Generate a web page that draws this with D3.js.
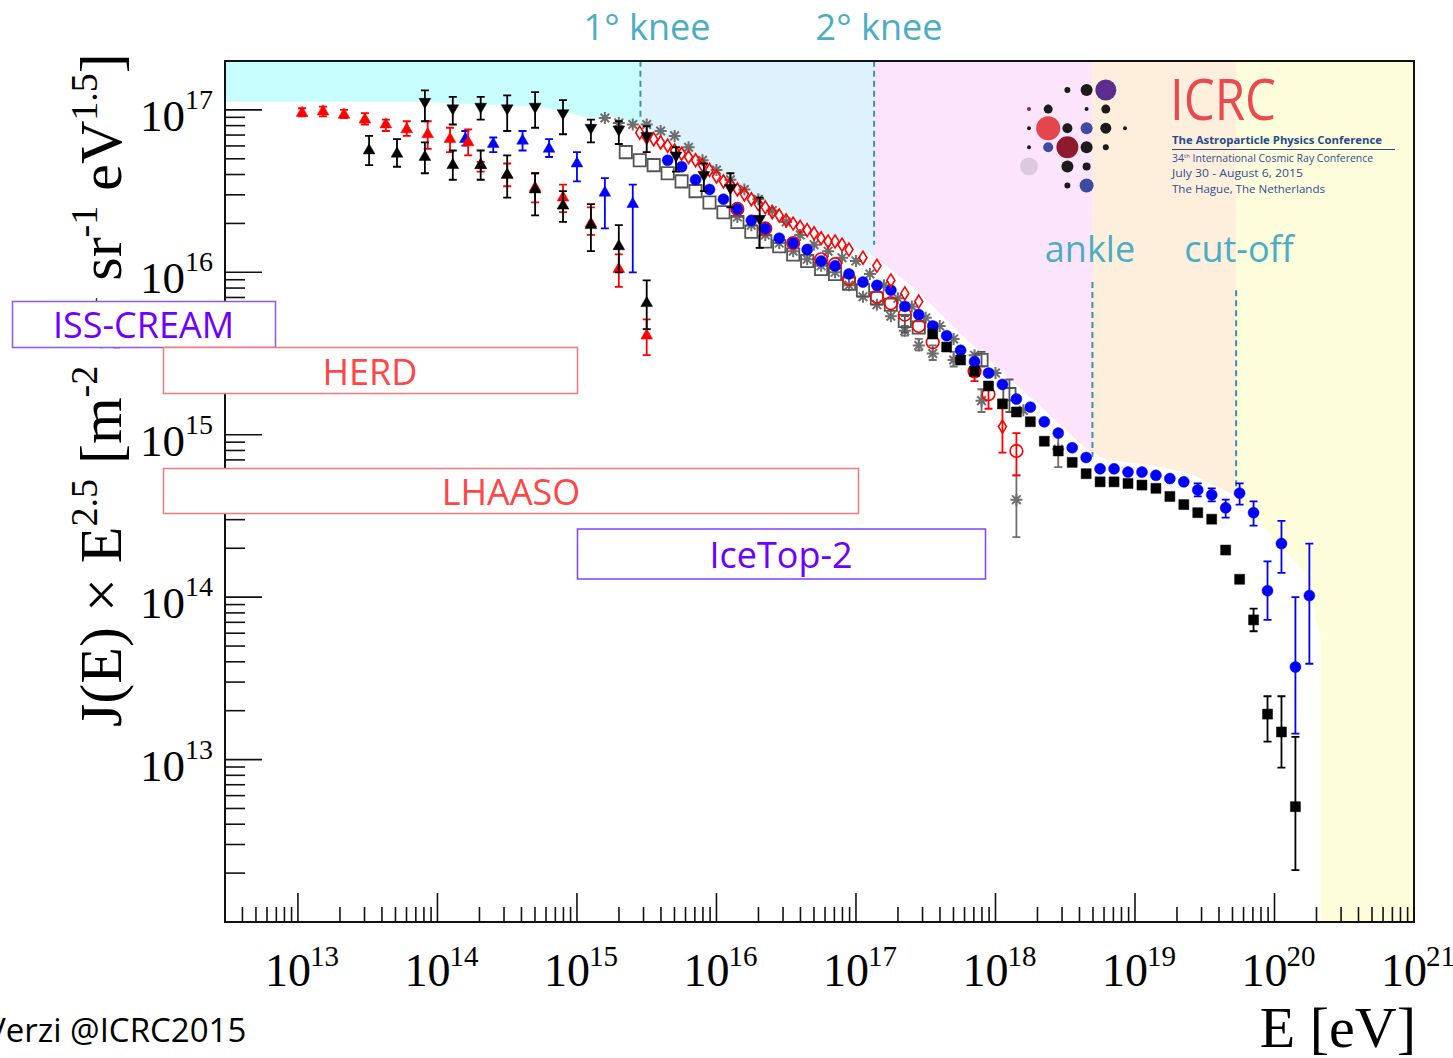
<!DOCTYPE html>
<html>
<head>
<meta charset="utf-8">
<script src="https://cdn.jsdelivr.net/npm/d3@7"></script>
<style>
  html, body { margin: 0; padding: 0; background: #fff; overflow: hidden; }
  svg { display: block; }
</style>
</head>
<body>
<svg id="chart" width="1453" height="1058"></svg>
<script>
// All-particle cosmic-ray spectrum, J(E)·E^2.5, in decades:
// every row is [log10(E/eV), log10(J·E^2.5), low end of bar, high end of bar]

const redTriangle = [
  [13.03,16.98,16.96,17.01],[13.18,16.99,16.96,17.02],[13.33,16.97,16.95,17.00],
  [13.48,16.94,16.91,16.98],[13.63,16.91,16.87,16.94],[13.78,16.88,16.84,16.93],
  [13.93,16.85,16.76,16.93],[14.09,16.82,16.74,16.89],[14.22,16.80,16.72,16.88],
  [14.31,16.66,16.62,16.68],[14.50,16.60,16.53,16.67],[14.70,16.52,16.43,16.61],
  [14.90,16.46,16.37,16.54],[15.10,16.30,16.23,16.40],[15.30,16.02,15.91,16.11],
  [15.50,15.61,15.49,15.71]
];

const blackTriangle = [
  [13.51,16.75,16.66,16.84],[13.71,16.73,16.65,16.82],[13.91,16.71,16.61,16.80],
  [14.11,16.66,16.57,16.75],[14.31,16.66,16.57,16.75],[14.50,16.60,16.46,16.72],
  [14.70,16.51,16.35,16.61],[14.90,16.41,16.31,16.50],[15.10,16.29,16.13,16.42],
  [15.30,16.16,16.00,16.29],[15.50,15.81,15.65,15.95]
];

const blackTriangleDown = [
  [13.91,17.05,16.93,17.12],[14.11,17.01,16.91,17.08],[14.31,17.02,16.94,17.08],
  [14.50,17.01,16.87,17.09],[14.70,17.02,16.89,17.11],[14.90,16.98,16.85,17.06],
  [15.10,16.89,16.80,16.94],[15.30,16.88,16.79,16.93],[15.50,16.84,16.74,16.90],
  [15.71,16.72,16.62,16.77],[15.91,16.60,16.50,16.67],[16.10,16.52,16.40,16.61],
  [16.31,16.33,16.15,16.46]
];

const blueTriangle = [
  [14.20,16.82,16.78,16.87],[14.40,16.79,16.74,16.83],[14.61,16.81,16.75,16.87],
  [14.80,16.76,16.71,16.82],[15.00,16.67,16.56,16.74],[15.20,16.49,16.27,16.58],
  [15.40,16.42,16.00,16.54]
];

const blueDot = [
  [15.65,16.69],[15.75,16.65],[15.85,16.57],[15.95,16.51],[16.05,16.45],
  [16.15,16.39],[16.25,16.32],[16.35,16.27],[16.45,16.21],[16.55,16.18],
  [16.65,16.14],[16.75,16.07],[16.85,16.04],[16.95,15.99],[17.05,15.94],
  [17.15,15.92],[17.25,15.89],[17.35,15.79],[17.45,15.74],[17.55,15.67],
  [17.65,15.61],[17.75,15.52],[17.85,15.45],[17.95,15.38],[18.05,15.31],
  [18.15,15.22],[18.25,15.17],[18.35,15.08],[18.45,15.01],[18.55,14.92],
  [18.65,14.86],[18.75,14.79],[18.85,14.79],[18.95,14.77],[19.05,14.77],
  [19.15,14.75],[19.25,14.73],[19.35,14.71],
  [19.45,14.66,14.62,14.70],[19.55,14.63,14.59,14.67],[19.65,14.55,14.49,14.60],
  [19.75,14.64,14.57,14.70],[19.85,14.52,14.44,14.59],[19.95,14.04,13.86,14.22],
  [20.05,14.33,14.15,14.47],[20.15,13.57,13.16,14.00],[20.25,14.01,13.59,14.33]
];

const blackSquare = [
  [17.55,15.62],[17.65,15.54],[17.75,15.46],[17.85,15.39],[17.95,15.30],
  [18.05,15.19],[18.15,15.14],[18.25,15.08],[18.35,14.96],[18.45,14.90],
  [18.55,14.83],[18.65,14.76],[18.75,14.71],[18.85,14.71],[18.95,14.70],
  [19.05,14.69],[19.15,14.67],[19.25,14.62],[19.35,14.57],[19.45,14.52],
  [19.55,14.48],[19.65,14.29],[19.75,14.11],
  [19.85,13.86,13.79,13.93],[19.95,13.28,13.11,13.39],
  [20.05,13.17,12.95,13.39],[20.15,12.71,12.32,13.14]
];

const openSquare = [
  [15.35,16.74],[15.45,16.69],[15.55,16.66],[15.65,16.61],[15.75,16.56],
  [15.85,16.50],[15.95,16.43],[16.05,16.37],[16.15,16.31],[16.25,16.25],
  [16.35,16.19],[16.45,16.16],[16.55,16.11],[16.65,16.07],[16.75,16.02],
  [16.85,15.99],[16.95,15.93],[17.05,15.89],[17.15,15.84],[17.25,15.80],
  [17.35,15.70,15.63,15.73],[17.45,15.66],
  [17.90,15.46,15.42,15.51],[18.10,15.25,15.14,15.34]
];

const redCircle = [
  [16.15,16.39],[16.35,16.27],[16.55,16.18],[16.75,16.08],[16.85,16.05],
  [16.95,15.96],[17.15,15.85],[17.25,15.81],[17.35,15.74],[17.45,15.67],
  [17.55,15.57],[17.85,15.39,15.33,15.43],[17.95,15.25,15.16,15.32],
  [18.15,14.90,14.75,15.01]
];

const redDiamond = [
  [15.45,16.86],[15.50,16.83],[15.55,16.82],[15.60,16.80],[15.65,16.78],
  [15.70,16.75],[15.75,16.73],[15.80,16.71],[15.85,16.69],[15.90,16.66],
  [15.95,16.63],[16.00,16.59],[16.05,16.56],[16.10,16.54],[16.15,16.51],
  [16.20,16.48],[16.25,16.45],[16.30,16.42],[16.35,16.40],[16.40,16.37],
  [16.45,16.35],[16.50,16.32],[16.55,16.30],[16.60,16.28],[16.65,16.26],
  [16.70,16.24],[16.75,16.21],[16.80,16.19],[16.85,16.19],[16.90,16.17],
  [16.95,16.14],[17.05,16.09],[17.15,16.04],[17.25,15.95],[17.35,15.87],
  [17.45,15.82],[18.05,15.05,14.89,15.17]
];

const grayStar = [
  [15.20,16.95],[15.30,16.92],[15.40,16.91],[15.50,16.91],[15.60,16.87],
  [15.70,16.84],[15.80,16.77],[15.90,16.69],[16.00,16.63],[16.10,16.57],
  [16.20,16.51],[16.30,16.45],[16.40,16.38],[16.50,16.31],[16.60,16.23],
  [16.70,16.17],[16.80,16.13],[16.90,16.09],[17.00,16.07],[17.10,15.99],
  [17.20,15.92],[17.30,15.84],[17.40,15.79],[17.50,15.72],[17.60,15.67],
  [17.70,15.59],[17.85,15.49],[18.00,15.38],[18.20,15.15],
  [18.45,14.91,14.80,15.01]
];

const grayStarLow = [
  [16.15,16.34],[16.25,16.29],[16.35,16.23],[16.45,16.18],[16.55,16.13],
  [16.65,16.08],[16.75,16.04],[16.85,16.00],[16.95,15.92],[17.05,15.85],
  [17.15,15.80],[17.25,15.73],
  [17.35,15.64,15.61,15.67],[17.45,15.55,15.52,15.59],[17.55,15.50,15.46,15.55],
  [17.70,15.46,15.42,15.51],[17.90,15.21,15.14,15.28],[18.15,14.60,14.37,14.75]
];

// Upper edge of the measured flux, below which the energy regions are left white
const envelopeLgE = [12.47, 13.87, 14.71, 14.95, 15.10, 15.23, 15.45, 15.59, 15.88, 16.31,
  16.74, 17.14, 17.45, 17.74, 18.03, 18.31, 18.60, 18.71, 18.81, 19.10, 19.39, 19.72,
  20.22, 20.33, 20.33, 21.0];
const envelopeLgJ = [17.05, 17.05, 17.02, 16.98, 16.945, 16.965, 16.915, 16.85, 16.705, 16.46,
  16.26, 16.09, 15.88, 15.63, 15.40, 15.185, 14.95, 14.88, 14.845, 14.815, 14.765, 14.625,
  14.15, 13.74, 12.0, 12.0];

// Spectral features
const featureLabels = ["1° knee", "2° knee", "ankle", "cut-off"];
const featureLgE = [15.455, 17.13, 18.695, 19.725];
const featureTopLgJ = [17.302, 17.302, 15.94, 15.89];
const featureBottomLgJ = [16.94, 16.17, 14.865, 14.60];

// Energy regions between the features
const regionEdges = [12.47, 15.455, 17.13, 18.695, 19.725, 21.0];
const regionColors = ["#c8fefe", "#ddf2fc", "#fce5fc", "#fdefdb", "#fefddb"];

// Experiments named on the chart
const experimentNames = ["ISS-CREAM", "HERD", "LHAASO", "IceTop-2"];

const xTickExponents = [13, 14, 15, 16, 17, 18, 19, 20, 21];
const yTickExponents = [13, 14, 15, 16, 17];

// ---------------------------------------------------------------------------

const frame = { left: 225, right: 1414, top: 61, bottom: 922 };
const x = d3.scaleLog().domain([3e12, 1e21]).range([frame.left, frame.right]);
const y = d3.scaleLog().domain([1e12, 2e17]).range([frame.bottom, frame.top]);
const X = lg => x(Math.pow(10, lg));
const Y = lg => y(Math.pow(10, lg));

const svg = d3.select("#chart");
const defs = svg.append("defs");

// Shaded regions above the flux envelope
const skyPts = envelopeLgE.map((e, i) => [X(e), Y(envelopeLgJ[i])]);
skyPts.push([frame.right, frame.top], [frame.left, frame.top]);
defs.append("clipPath").attr("id", "above-flux")
  .append("path").attr("d", d3.line()(skyPts) + "Z");
defs.append("clipPath").attr("id", "frame-clip")
  .append("rect").attr("x", frame.left).attr("y", frame.top)
  .attr("width", frame.right - frame.left).attr("height", frame.bottom - frame.top);

const bands = svg.append("g").attr("clip-path", "url(#frame-clip)")
  .append("g").attr("clip-path", "url(#above-flux)");
bands.selectAll("rect").data(regionColors).join("rect")
  .attr("x", (c, i) => X(regionEdges[i]))
  .attr("width", (c, i) => X(regionEdges[i + 1]) - X(regionEdges[i]) + 0.5)
  .attr("y", frame.top).attr("height", frame.bottom - frame.top)
  .attr("fill", c => c);

// Dashed markers of the spectral features
const featureColor = "#3a93ad";
svg.append("g").selectAll("line").data(featureLgE).join("line")
  .attr("x1", d => X(d)).attr("x2", d => X(d))
  .attr("y1", (d, i) => Y(featureTopLgJ[i])).attr("y2", (d, i) => Y(featureBottomLgJ[i]))
  .attr("stroke", featureColor).attr("stroke-width", 2).attr("stroke-dasharray", "6,4");

const labelPos = [[647, 40], [879, 40], [1090, 262], [1239, 262]];
svg.append("g").selectAll("text").data(featureLabels).join("text")
  .attr("x", (d, i) => labelPos[i][0]).attr("y", (d, i) => labelPos[i][1])
  .attr("text-anchor", "middle")
  .attr("font-family", "'Open Sans', 'Noto Sans', sans-serif")
  .attr("font-size", 36).attr("fill", "#4bacc6")
  .text(d => d);

// ICRC 2015 logo
const logo = svg.append("g").attr("transform", "translate(1029,90)");
const logoDots = [
  [2,0,3,"#1b1b1b"],[3,0,6,"#1b1b1b"],[4,0,10.5,"#5a2d8f"],
  [0,1,2,"#9b2335"],[1,1,4.5,"#1b1b1b"],[3,1,2,"#1b1b1b"],[4,1,4.5,"#1b1b1b"],
  [0,2,2,"#1b1b1b"],[1,2,12,"#e4474b"],[2,2,5,"#1b1b1b"],[3,2,6,"#3d4ba2"],[4,2,5.5,"#1b1b1b"],[5,2,2,"#1b1b1b"],
  [0,3,2,"#1b1b1b"],[1,3,5,"#3d4ba2"],[2,3,11,"#8e1b2c"],[3,3,6,"#1b1b1b"],[4,3,3,"#1b1b1b"],
  [0,4,9,"#ddc9dd"],[2,4,6,"#1b1b1b"],[3,4,4,"#1b1b1b"],
  [2,5,3,"#1b1b1b"],[3,5,7,"#3d4ba2"]
];
logo.selectAll("circle").data(logoDots).join("circle")
  .attr("cx", d => d[0] * 19.2).attr("cy", d => d[1] * 19.1)
  .attr("r", d => d[2]).attr("fill", d => d[3]);
const logoFont = "'Open Sans', 'Noto Sans', sans-serif";
svg.append("text").attr("x", 1170).attr("y", 120)
  .attr("font-family", logoFont).attr("font-size", 56).attr("fill", "#e84a4f")
  .attr("textLength", 106).attr("lengthAdjust", "spacingAndGlyphs").text("ICRC");
svg.append("text").attr("x", 1172).attr("y", 143.5)
  .attr("font-family", logoFont).attr("font-size", 11).attr("font-weight", 700).attr("fill", "#27498c")
  .attr("textLength", 210).attr("lengthAdjust", "spacingAndGlyphs").text("The Astroparticle Physics Conference");
svg.append("line").attr("x1", 1172).attr("x2", 1395).attr("y1", 149.5).attr("y2", 149.5)
  .attr("stroke", "#27498c").attr("stroke-width", 1);
const logoSub = svg.append("text").attr("x", 1172).attr("y", 162)
  .attr("font-family", logoFont).attr("font-size", 10.5).attr("fill", "#2f4f95");
logoSub.append("tspan").text("34");
logoSub.append("tspan").attr("font-size", 6).attr("dy", -4).text("th");
logoSub.append("tspan").attr("dy", 4).text(" International Cosmic Ray Conference");
svg.append("text").attr("x", 1172).attr("y", 177)
  .attr("font-family", logoFont).attr("font-size", 10.5).attr("fill", "#2f4f95")
  .attr("textLength", 131).attr("lengthAdjust", "spacingAndGlyphs").text("July 30 - August 6, 2015");
svg.append("text").attr("x", 1172).attr("y", 193)
  .attr("font-family", logoFont).attr("font-size", 10.5).attr("fill", "#2f4f95")
  .attr("textLength", 153).attr("lengthAdjust", "spacingAndGlyphs").text("The Hague, The Netherlands");

// Data series
const plot = svg.append("g");
const tri = d3.symbol().type(d3.symbolTriangle).size(60)();
const dot = d3.symbol().type(d3.symbolCircle).size(95)();
const sq = d3.symbol().type(d3.symbolSquare).size(100)();
const osq = d3.symbol().type(d3.symbolSquare).size(150)();
const ocirc = d3.symbol().type(d3.symbolCircle).size(125)();
const diamond = "M0,-6.5L4,0L0,6.5L-4,0Z";
const star = "M-6,0H6M0,-6V6M-4.3,-4.3L4.3,4.3M-4.3,4.3L4.3,-4.3";

function drawSeries(rows, o) {
  const g = plot.append("g");
  const cap = o.cap || 4;
  g.selectAll("path.bar").data(rows.filter(r => r.length > 2)).join("path")
    .attr("class", "bar")
    .attr("d", d => {
      const cx = X(d[0]), a = Y(d[2]), b = Y(d[3]);
      return `M${cx},${a}V${b}M${cx - cap},${a}H${cx + cap}M${cx - cap},${b}H${cx + cap}`;
    })
    .attr("fill", "none").attr("stroke", o.bar || o.color).attr("stroke-width", 1.8);
  g.selectAll("path.mk").data(rows).join("path")
    .attr("class", "mk")
    .attr("d", o.shape)
    .attr("transform", d => `translate(${X(d[0])},${Y(d[1])})${o.rotate ? " rotate(180)" : ""}`)
    .attr("fill", o.fill ? o.color : "none")
    .attr("stroke", o.color)
    .attr("stroke-width", o.fill ? 0.5 : (o.sw || 1.6));
}

drawSeries(grayStarLow, { shape: star, color: "#6e6e6e", sw: 2 });
drawSeries(grayStar, { shape: star, color: "#6e6e6e", sw: 2 });
drawSeries(openSquare, { shape: osq, color: "#555555", sw: 1.8 });
drawSeries(redCircle, { shape: ocirc, color: "#ff0000", sw: 1.6 });
drawSeries(blueDot, { shape: dot, color: "#0000ff", fill: true });
drawSeries(redDiamond, { shape: diamond, color: "#ff0000", sw: 1.6 });
drawSeries(blackSquare, { shape: sq, color: "#000000", fill: true });
drawSeries(blueTriangle, { shape: tri, color: "#0000ff", fill: true });
drawSeries(redTriangle, { shape: tri, color: "#ff0000", fill: true });
drawSeries(blackTriangle, { shape: tri, color: "#000000", fill: true });
drawSeries(blackTriangleDown, { shape: tri, color: "#000000", fill: true, rotate: true });

// Frame and axes
const axisColor = "#111";
svg.append("rect").attr("x", frame.left).attr("y", frame.top)
  .attr("width", frame.right - frame.left).attr("height", frame.bottom - frame.top)
  .attr("fill", "none").attr("stroke", axisColor).attr("stroke-width", 2);

const xMinor = [], yMinor = [];
for (let e = 12; e <= 20; e++) for (let m = 2; m <= 9; m++) {
  const v = m * Math.pow(10, e);
  if (v > 3e12 && v < 1e21) xMinor.push(v);
}
for (let e = 12; e <= 17; e++) for (let m = 2; m <= 9; m++) {
  const v = m * Math.pow(10, e);
  if (v < 2e17) yMinor.push(v);
}
const ticks = svg.append("g").attr("stroke", axisColor).attr("stroke-width", 1.6);
ticks.selectAll("line.xmin").data(xMinor).join("line").attr("class", "xmin")
  .attr("x1", d => x(d)).attr("x2", d => x(d)).attr("y1", frame.bottom).attr("y2", frame.bottom - 15);
ticks.selectAll("line.xmaj").data(xTickExponents).join("line").attr("class", "xmaj")
  .attr("x1", d => x(Math.pow(10, d))).attr("x2", d => x(Math.pow(10, d)))
  .attr("y1", frame.bottom).attr("y2", frame.bottom - 29);
ticks.selectAll("line.ymin").data(yMinor).join("line").attr("class", "ymin")
  .attr("y1", d => y(d)).attr("y2", d => y(d)).attr("x1", frame.left).attr("x2", frame.left + 20);
ticks.selectAll("line.ymaj").data(yTickExponents).join("line").attr("class", "ymaj")
  .attr("y1", d => y(Math.pow(10, d))).attr("y2", d => y(Math.pow(10, d)))
  .attr("x1", frame.left).attr("x2", frame.left + 37);

const serif = "'Liberation Serif', 'Times New Roman', serif";
const xLab = svg.append("g").attr("font-family", serif).attr("fill", "#000");
xTickExponents.forEach(e => {
  const tx = x(Math.pow(10, e));
  xLab.append("text").attr("x", tx - 33).attr("y", 986).attr("font-size", 46).text("10");
  xLab.append("text").attr("x", tx + 12).attr("y", 966).attr("font-size", 29).text(e);
});
const yLab = svg.append("g").attr("font-family", serif).attr("fill", "#000");
yTickExponents.forEach(e => {
  const ty = y(Math.pow(10, e));
  yLab.append("text").attr("x", 140).attr("y", ty + 21).attr("font-size", 45).text("10");
  yLab.append("text").attr("x", 185).attr("y", ty - 1).attr("font-size", 28).text(e);
});

// Axis titles
svg.append("text").attr("x", 1416).attr("y", 1047).attr("text-anchor", "end")
  .attr("font-family", serif).attr("font-size", 58).text("E [eV]");

const yTitle = svg.append("text")
  .attr("transform", "translate(121,727) rotate(-90)")
  .attr("font-family", serif).attr("font-size", 60);
const titleParts = [["J(E) × E", 0], ["2.5", 1], [" [m", 0], ["-2", 1], [" s", 0], ["-1", 1],
  [" sr", 0], ["-1", 1], [" eV", 0], ["1.5", 1], ["]", 0]];
let raised = false;
titleParts.forEach(([t, sup]) => {
  const ts = yTitle.append("tspan").text(t);
  if (sup && !raised) { ts.attr("dy", -24).attr("font-size", 38); raised = true; }
  else if (sup) { ts.attr("font-size", 38); }
  else if (raised) { ts.attr("dy", 24); raised = false; }
});

// Experiment boxes
const boxes = [
  { x: 12.5, y: 301.5, w: 263, h: 46, cx: 143.5, by: 338, stroke: "#8c55ff", color: "#6f00ff" },
  { x: 163.5, y: 347.5, w: 414, h: 46, cx: 370, by: 385, stroke: "#f47a7a", color: "#ff4646" },
  { x: 163.5, y: 468.5, w: 695, h: 45, cx: 511, by: 505, stroke: "#f47a7a", color: "#ff4646" },
  { x: 577.5, y: 529, w: 408, h: 50, cx: 781, by: 568, stroke: "#8040ff", color: "#6f00ff" }
];
const bx = svg.append("g").selectAll("g").data(experimentNames).join("g");
bx.append("rect").attr("x", (d, i) => boxes[i].x).attr("y", (d, i) => boxes[i].y)
  .attr("width", (d, i) => boxes[i].w).attr("height", (d, i) => boxes[i].h)
  .attr("fill", "#fff").attr("stroke", (d, i) => boxes[i].stroke).attr("stroke-width", 1.5);
bx.append("text").attr("x", (d, i) => boxes[i].cx).attr("y", (d, i) => boxes[i].by)
  .attr("text-anchor", "middle").attr("font-family", "'Open Sans', 'Noto Sans', sans-serif")
  .attr("font-size", 36).attr("fill", (d, i) => boxes[i].color).text(d => d);

// Credit
svg.append("text").attr("x", -14).attr("y", 1042)
  .attr("font-family", "'Open Sans', 'Noto Sans', sans-serif").attr("font-size", 33)
  .attr("fill", "#000").text("Verzi @ICRC2015");
</script>
</body>
</html>
